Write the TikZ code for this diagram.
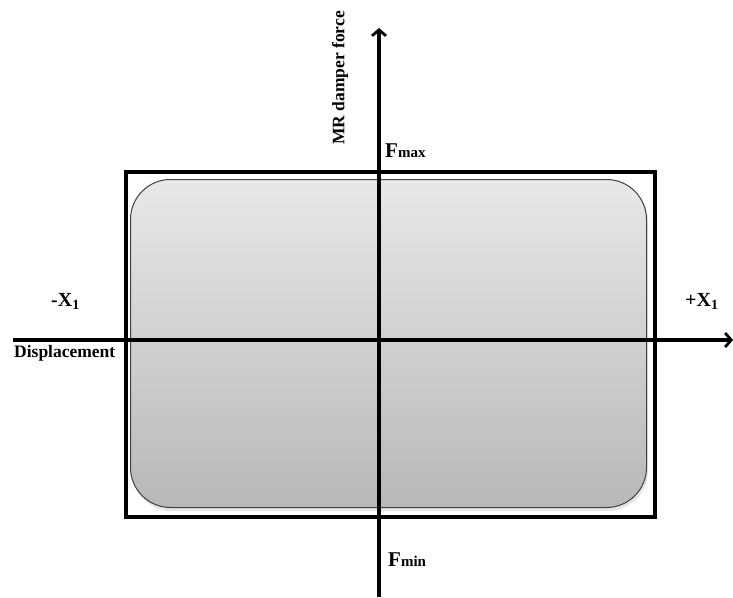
\documentclass[tikz,border=0pt]{standalone}
\usepackage{fontspec}
\setmainfont{Liberation Serif}
\usetikzlibrary{arrows.meta,shadows}
\tikzset{
  axis/.style={line width=3.5pt,-{Straight Barb[length=6pt,width=14pt,line width=2.8pt]}},
  outerbox/.style={line width=3.5pt,draw=black},
  innerbox/.style={draw=black!75,line width=1pt,rounded corners=40pt,top color=black!9,bottom color=black!28},
  lbl/.style={inner sep=0pt,font=\bfseries\fontsize{17.5pt}{20pt}\selectfont},
  big/.style={inner sep=0pt,anchor=base west,font=\bfseries\fontsize{21pt}{24pt}\selectfont}
}
\begin{document}
\begin{tikzpicture}[x=1pt,y=-1pt]
\useasboundingbox (0,0) rectangle (733,597);
% outer rectangle
\node[outerbox,minimum width=529pt,minimum height=345pt,inner sep=0pt,anchor=north west] (outer) at (124,170) {};
% inner rounded rectangle with gradient
\fill[black!20,rounded corners=40pt,opacity=0.5] (132,181) rectangle (648,511);
\node[innerbox,minimum width=516pt,minimum height=328pt,inner sep=0pt,anchor=north west] (inner) at (130,179) {};
% axes
\coordinate (yb) at (379,597);
\coordinate (yt) at (379,28);
\coordinate (xl) at (13,340);
\coordinate (xr) at (733,340);
\draw[axis] (yb) -- (yt);
\draw[axis] (xl) -- (xr);
% labels
\node[lbl,rotate=90] (ylab) at (340,78) {MR damper force};
\node[lbl,anchor=north west] (xlab) at (14,345) {Displacement};
\node[big] (fmax) at (385,157) {F\fontsize{15pt}{17pt}\selectfont max};
\node[big] (fmin) at (388,566) {F\fontsize{15pt}{17pt}\selectfont min};
\node[big,font=\bfseries\fontsize{20pt}{24pt}\selectfont] (xneg) at (51,306) {-X\raisebox{-3pt}{\fontsize{14pt}{16pt}\selectfont 1}};
\node[big,font=\bfseries\fontsize{20pt}{24pt}\selectfont] (xpos) at (685,306) {+X\raisebox{-3pt}{\fontsize{14pt}{16pt}\selectfont 1}};
\end{tikzpicture}
\end{document}
